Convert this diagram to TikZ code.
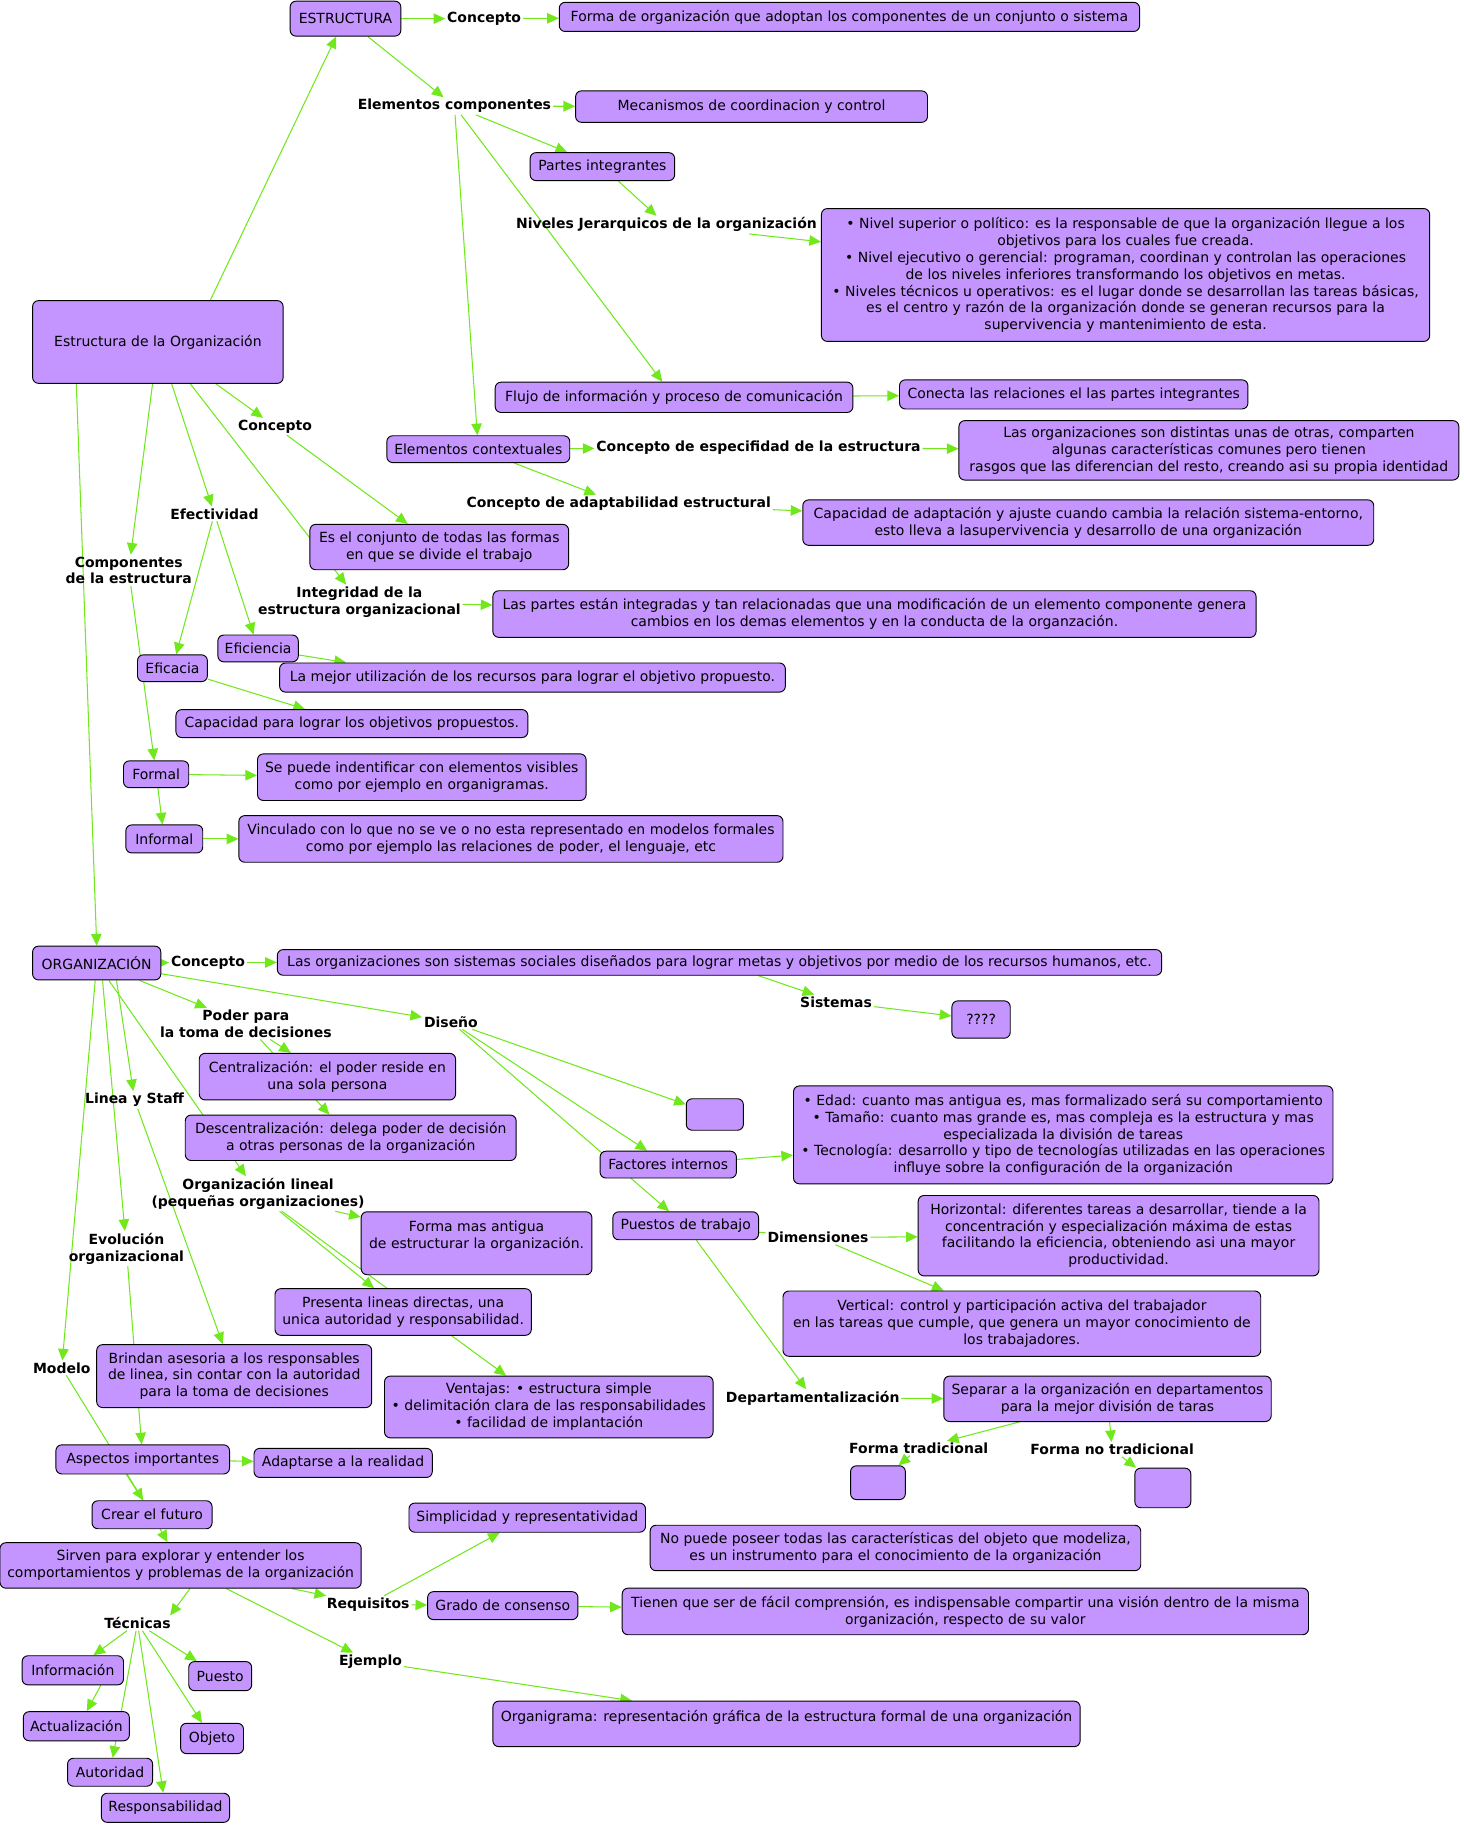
\documentclass[tikz,border=0pt]{standalone}
\usepackage{fontspec}
\setmainfont{DejaVu Sans}
\usepackage{tikz}
\usetikzlibrary{arrows.meta}
\usetikzlibrary{backgrounds}
\definecolor{cajalila}{RGB}{196,148,255}
\definecolor{enlaceverde}{RGB}{112,232,28}
\tikzset{
  caja/.style={draw=black, fill=cajalila, rounded corners=5pt, line width=0.8pt,
    align=center, inner sep=2pt, font=\fontsize{12}{14.5}\selectfont},
  tam/.style 2 args={minimum width=#1pt, minimum height=#2pt},
  frase/.style={align=center, inner sep=1.5pt, font=\bfseries\fontsize{12}{14.5}\selectfont},
  flecha/.style={draw=enlaceverde, line width=0.9pt, -{Triangle[length=10pt,width=9pt]}},
  liso/.style={draw=enlaceverde, line width=0.9pt}
}

\begin{document}
\begin{tikzpicture}[x=1pt,y=-1pt]
    \useasboundingbox (0,0) rectangle (1256,1568);  %marco
    % ESTRUCTURA
    \node[caja, tam={95}{30}] (estr) at (296.5,16) {ESTRUCTURA};
    \node[frase] (lconc1) at (415.5,16) {Concepto};
    \node[caja, tam={498}{25}] (forma) at (729,14.5) {Forma de organización que adoptan los componentes de un conjunto o sistema};
    \node[frase] (lelem) at (390,91) {Elementos componentes};
    \node[caja, tam={302}{27}] (mecan) at (645,91.5) {Mecanismos de coordinacion y control};
    \node[caja, tam={124}{24}] (partes) at (517,143) {Partes integrantes};
    \node[frase] (lnivel) at (572,193) {Niveles Jerarquicos de la organización};
    \node[caja, tam={522}{114}] (nivel) at (966,236) {• Nivel superior o político: es la responsable de que la organización llegue a los\\objetivos para los cuales fue creada.\\• Nivel ejecutivo o gerencial: programan, coordinan y controlan las operaciones\\de los niveles inferiores transformando los objetivos en metas.\\• Niveles técnicos u operativos: es el lugar donde se desarrollan las tareas básicas,\\es el centro y razón de la organización donde se generan recursos para la\\supervivencia y mantenimiento de esta.};
    \node[caja, tam={215}{71}] (estorg) at (135.5,293.5) {Estructura de la Organización};
    \node[caja, tam={307}{26}] (flujo) at (578.5,341) {Flujo de información y proceso de comunicación};
    \node[caja, tam={299}{25}] (conecta) at (921.5,338.5) {Conecta las relaciones el las partes integrantes};
    \node[frase] (lconc2) at (236,366) {Concepto};
    \node[caja, tam={157}{23}] (contx) at (410.5,385.5) {Elementos contextuales};
    \node[frase] (lespec) at (651,384) {Concepto de especifidad de la estructura};
    \node[caja, tam={429}{51}] (distintas) at (1037.5,386.5) {Las organizaciones son distintas unas de otras, comparten\\algunas características comunes pero tienen\\rasgos que las diferencian del resto, creando asi su propia identidad};
    \node[frase] (ladapt) at (531,432) {Concepto de adaptabilidad estructural};
    \node[caja, tam={490}{39}] (capadapt) at (934,448.5) {Capacidad de adaptación y ajuste cuando cambia la relación sistema-entorno,\\esto lleva a lasupervivencia y desarrollo de una organización};
    \node[frase] (lefect) at (184,441) {Efectividad};
    \node[caja, tam={222}{39}] (conjunto) at (377,469.5) {Es el conjunto de todas las formas\\en que se divide el trabajo};
    \node[frase] (lcomp) at (110.5,489.5) {Componentes\\de la estructura};
    \node[frase] (linteg) at (308.5,516.5) {Integridad de la\\estructura organizacional};
    \node[caja, tam={655}{40}] (integ) at (750.5,527) {Las partes están integradas y tan relacionadas que una modificación de un elemento componente genera\\cambios en los demas elementos y en la conducta de la organzación.};
    \node[caja, tam={69}{23}] (eficiencia) at (221.5,556.5) {Eficiencia};
    \node[caja, tam={60}{23}] (eficacia) at (148,573.5) {Eficacia};
    \node[caja, tam={434}{25}] (mejor) at (457,581.5) {La mejor utilización de los recursos para lograr el objetivo propuesto.};
    \node[caja, tam={302}{24}] (capac) at (302,621) {Capacidad para lograr los objetivos propuestos.};
    \node[caja, tam={56}{23}] (formal) at (134,664.5) {Formal};
    \node[caja, tam={282}{40}] (sepuede) at (362,667) {Se puede indentificar con elementos visibles\\como por ejemplo en organigramas.};
    \node[caja, tam={66}{24}] (informal) at (141,720) {Informal};
    \node[caja, tam={467}{40}] (vinculado) at (438.5,720) {Vinculado con lo que no se ve o no esta representado en modelos formales\\como por ejemplo las relaciones de poder, el lenguaje, etc};
    % ORGANIZACION
    \node[caja, tam={110}{29}] (org) at (83,826.5) {ORGANIZACIÓN};
    \node[frase] (lconc3) at (178.5,826) {Concepto};
    \node[caja, tam={759}{22}] (sociales) at (617.5,826) {Las organizaciones son sistemas sociales diseñados para lograr metas y objetivos por medio de los recursos humanos, etc.};
    \node[frase] (lsist) at (717.5,860) {Sistemas};
    \node[caja, tam={50}{32}] (interr) at (842,875) {????};
    \node[frase] (lpoder) at (211,878.5) {Poder para\\la toma de decisiones};
    \node[frase] (ldiseno) at (387,877) {Diseño};
    \node[caja, tam={220}{40}] (central) at (281,924) {Centralización: el poder reside en\\una sola persona};
    \node[caja, tam={49}{27}] (vacio1) at (613.5,956.5) {};
    \node[caja, tam={463}{84}] (edad) at (912.5,974) {• Edad: cuanto mas antigua es, mas formalizado será su comportamiento\\• Tamaño: cuanto mas grande es, mas compleja es la estructura y mas\\especializada la división de tareas\\• Tecnología: desarrollo y tipo de tecnologías utilizadas en las operaciones\\influye sobre la configuración de la organización};
    \node[frase] (llinea) at (115.5,944) {Linea y Staff};
    \node[caja, tam={284}{39}] (descent) at (301,976.5) {Descentralización: delega poder de decisión\\a otras personas de la organización};
    \node[caja, tam={117}{23}] (factores) at (573.5,999.5) {Factores internos};
    \node[frase] (llineal) at (221.5,1024.5) {Organización lineal\\(pequeñas organizaciones)};
    \node[caja, tam={198}{54}] (antigua) at (409,1067) {Forma mas antigua\\de estructurar la organización.\\~};
    \node[caja, tam={125}{24}] (puestos) at (588.5,1052) {Puestos de trabajo};
    \node[frase] (ldimen) at (702,1062) {Dimensiones};
    \node[caja, tam={344}{69}] (horiz) at (960,1060.5) {Horizontal: diferentes tareas a desarrollar, tiende a la\\concentración y especialización máxima de estas\\facilitando la eficiencia, obteniendo asi una mayor\\productividad.};
    \node[frase] (levol) at (108.5,1071.5) {Evolución\\organizacional};
    \node[caja, tam={220}{40}] (presenta) at (346,1126) {Presenta lineas directas, una\\unica autoridad y responsabilidad.};
    \node[caja, tam={410}{56}] (vertical) at (877,1136) {Vertical: control y participación activa del trabajador\\en las tareas que cumple, que genera un mayor conocimiento de\\los trabajadores.};
    \node[frase] (lmodelo) at (53,1174) {Modelo};
    \node[caja, tam={236}{54}] (brindan) at (201,1181) {Brindan asesoria a los responsables\\de linea, sin contar con la autoridad\\para la toma de decisiones};
    \node[caja, tam={282}{53}] (ventajas) at (471,1207.5) {Ventajas: • estructura simple\\• delimitación clara de las responsabilidades\\• facilidad de implantación};
    \node[frase] (ldepto) at (697.5,1200) {Departamentalización};
    \node[caja, tam={281}{39}] (separar) at (950.5,1200.5) {Separar a la organización en departamentos\\para la mejor división de taras};
    \node[frase] (ltrad) at (788.5,1243) {Forma tradicional};
    \node[frase] (lnotrad) at (954.5,1244) {Forma no tradicional};
    \node[caja, tam={47}{29}] (vacio2) at (753.5,1272.5) {};
    \node[caja, tam={48}{34}] (vacio3) at (998,1277) {};
    \node[caja, tam={149}{25}] (aspectos) at (122.5,1252.5) {Aspectos importantes};
    \node[caja, tam={153}{25}] (adaptarse) at (294.5,1255.5) {Adaptarse a la realidad};
    \node[caja, tam={103}{24}] (crear) at (130.5,1300) {Crear el futuro};
    \node[caja, tam={203}{25}] (simpl) at (452.5,1302.5) {Simplicidad y representatividad};
    \node[caja, tam={421}{39}] (nopuede) at (768.5,1328.5) {No puede poseer todas las características del objeto que modeliza,\\es un instrumento para el conocimiento de la organización};
    \node[caja, tam={310}{39}] (sirven) at (155,1343.5) {Sirven para explorar y entender los\\comportamientos y problemas de la organización};
    \node[frase] (lreq) at (316,1377) {Requisitos};
    \node[caja, tam={129}{24}] (grado) at (431.5,1378) {Grado de consenso};
    \node[caja, tam={589}{40}] (tienen) at (828.5,1383) {Tienen que ser de fácil comprensión, es indispensable compartir una visión dentro de la misma\\organización, respecto de su valor};
    \node[frase] (ltecn) at (118,1393) {Técnicas};
    \node[caja, tam={87}{25}] (info) at (62.5,1433.5) {Información};
    \node[caja, tam={54}{25}] (puesto) at (189,1438.5) {Puesto};
    \node[frase] (lejem) at (318,1426) {Ejemplo};
    \node[caja, tam={504}{39}] (organig) at (675,1479.5) {Organigrama: representación gráfica de la estructura formal de una organización\\~};
    \node[caja, tam={91}{25}] (actual) at (65.5,1481.5) {Actualización};
    \node[caja, tam={54}{26}] (objeto) at (182,1492) {Objeto};
    \node[caja, tam={73}{24}] (autoridad) at (94.5,1521) {Autoridad};
    \node[caja, tam={110}{25}] (respons) at (142,1551.5) {Responsabilidad};
    \begin{pgfonlayer}{background}
      \foreach \a/\b in
      {
        estr/lconc1, lconc1/forma, estr/lelem, lelem/mecan, lelem/partes,
        lelem/contx, lelem/flujo, partes/lnivel, lnivel/nivel, flujo/conecta,
        contx/lespec, lespec/distintas, contx/ladapt, ladapt/capadapt,
        estorg/lconc2, lconc2/conjunto, estorg/linteg, estorg/lefect,
        estorg/lcomp, lefect/eficacia, lefect/eficiencia, eficacia/capac,
        lcomp/formal, formal/sepuede, formal/informal, informal/vinculado,
        linteg/integ%
      }
        \draw[flecha] (\a) -- (\b);  %estructura
      \foreach \a/\b in
      {
        org/lconc3, lconc3/sociales, sociales/lsist, lsist/interr, org/lpoder,
        org/ldiseno, org/lmodelo, org/llineal, lpoder/central, lpoder/descent,
        ldiseno/vacio1, ldiseno/factores, ldiseno/puestos, factores/edad,
        ldimen/horiz, ldimen/vertical, puestos/ldepto, ldepto/separar,
        separar/ltrad, separar/lnotrad, ltrad/vacio2, lnotrad/vacio3,
        llineal/antigua, llineal/presenta, llineal/ventajas, llinea/brindan,
        levol/aspectos, lmodelo/crear, aspectos/adaptarse, crear/sirven,
        sirven/lreq, sirven/lejem, lreq/simpl, lreq/grado, grado/tienen,
        lejem/organig, ltecn/info, ltecn/puesto, ltecn/objeto, ltecn/respons,
        ltecn/autoridad%
      }
        \draw[flecha] (\a) -- (\b);  %organizacion
      \draw[flecha] ([xshift=45pt]estorg.north) -- ([xshift=-8pt]estr.south);
      \draw[flecha] ([xshift=-70pt]estorg.south) -- (org.north);
      \draw[flecha] (eficiencia) -- ([xshift=-160pt]mejor.north);
      \draw[flecha] ([xshift=17pt]org.south) -- (llinea);
      \draw[flecha] ([xshift=5pt]org.south) -- (levol);
      \draw[flecha] ([xshift=8pt]sirven.south) -- ([xshift=28pt]ltecn.north);
      \draw[flecha] ([xshift=24pt]info.south) -- ([xshift=9pt]actual.north);
      \draw[liso] (puestos) -- (ldimen);  %sin flecha
      \draw[liso] ([xshift=-14pt]aspectos.south) -- (crear);
    \end{pgfonlayer}
\end{tikzpicture}
\end{document}
